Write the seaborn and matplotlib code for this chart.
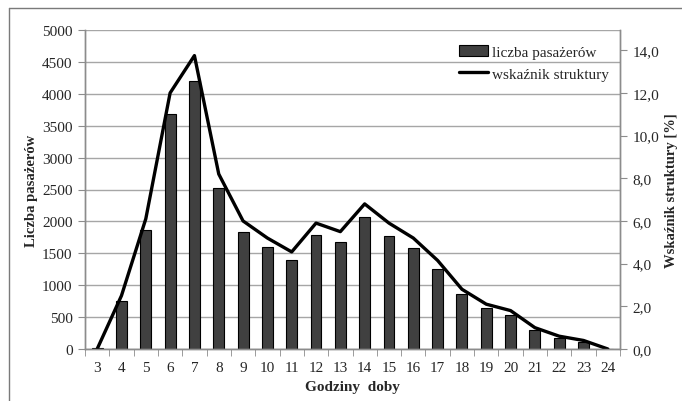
import numpy as np
import pandas as pd
import matplotlib
matplotlib.use("Agg")
import matplotlib.pyplot as plt
from matplotlib.lines import Line2D
from matplotlib.patches import Patch
import seaborn as sns

# Hourly passenger counts and their share of the daily total
hours = [str(h) for h in range(3, 25)]
passengers = [20, 750, 1860, 3680, 4200, 2530, 1840, 1600, 1400, 1790, 1680,
              2070, 1770, 1580, 1260, 860, 640, 540, 290, 180, 110, 0]
share_pct = [0.0, 2.5, 6.1, 12.0, 13.75, 8.2, 6.0, 5.2, 4.55, 5.9, 5.5,
             6.8, 5.9, 5.2, 4.15, 2.8, 2.1, 1.8, 1.0, 0.6, 0.4, 0.0]
left_ticks = list(range(0, 5001, 500))
right_ticks = [0, 2, 4, 6, 8, 10, 12, 14]

df = pd.DataFrame({"hour": hours, "passengers": passengers, "share": share_pct})
df["pos"] = np.arange(len(df))

sns.set_style("white")
plt.rcParams["font.family"] = ["Liberation Serif", "DejaVu Serif"]

fig = plt.figure(figsize=(6.82, 4.02), dpi=100)
ax = fig.add_axes([85 / 682, 1 - 350 / 402, 535 / 682, 319 / 402])

grey = "#8c8c8c"
sns.barplot(data=df, x="hour", y="passengers", ax=ax, color="#404040",
            edgecolor="black", linewidth=0.8, width=0.45, saturation=1)
ax.set_ylim(0, 5000)
ax.set_xlim(-0.5, len(hours) - 0.5)
ax.set_yticks(left_ticks)
ax.yaxis.grid(True, color="#a6a6a6", linewidth=1.0)
ax.set_axisbelow(True)

ax2 = ax.twinx()
sns.lineplot(data=df, x="pos", y="share", ax=ax2, color="black", linewidth=2.4)
ax2.set_ylim(0, 14.95)
ax2.set_yticks(right_ticks)
ax2.set_yticklabels([f"{v:.1f}".replace(".", ",") for v in right_ticks])
ax2.set_xlim(-0.5, len(hours) - 0.5)

for a in (ax, ax2):
    a.spines["top"].set_visible(False)
    for side in ("left", "right", "bottom"):
        a.spines[side].set_color(grey)
        a.spines[side].set_linewidth(1.0)

ax.tick_params(axis="y", which="both", left=True, length=5, color=grey,
               labelsize=11, pad=4)
ax2.tick_params(axis="y", right=True, length=5, color=grey, labelsize=11, pad=4)
ax.set_xticks(np.arange(len(hours)))
ax.set_xticklabels(hours)
ax.set_xticks(np.arange(-0.5, len(hours), 1.0), minor=True)
ax.tick_params(axis="x", which="major", length=0, labelsize=11, pad=9)
ax.tick_params(axis="x", which="minor", bottom=True, length=5, color=grey)

ax.set_xlabel("Godziny  doby", fontsize=11, fontweight="bold", labelpad=4)
ax.set_ylabel("Liczba pasażerów", fontsize=10.5, fontweight="bold", labelpad=3)
ax2.set_ylabel("Wskaźnik struktury [%]", fontsize=10.5, fontweight="bold",
               labelpad=4)

handles = [Patch(facecolor="#404040", edgecolor="black", linewidth=0.8),
           Line2D([0], [0], color="black", linewidth=2.4)]
ax2.legend(handles, ["liczba pasażerów", "wskaźnik struktury"],
           loc="upper right", bbox_to_anchor=(1.0, 0.985), frameon=False,
           fontsize=11, handlelength=1.9, handletextpad=0.3,
           labelspacing=0.5, borderaxespad=0.3)

# Chart frame running along the top and left edges
fig.add_artist(Line2D([9 / 682, 1.0], [1 - 9 / 402, 1 - 9 / 402],
                      transform=fig.transFigure, color="#7a7a7a", linewidth=1.0))
fig.add_artist(Line2D([9 / 682, 9 / 682], [0.0, 1 - 9 / 402],
                      transform=fig.transFigure, color="#7a7a7a", linewidth=1.0))

fig.savefig("out.png", dpi=100, facecolor="white")
